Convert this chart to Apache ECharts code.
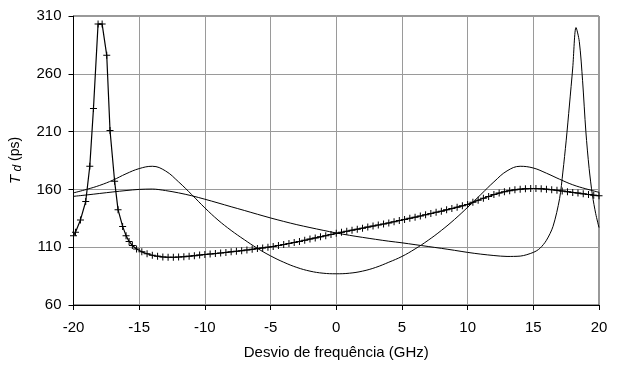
<!DOCTYPE html>
<html>
<head>
<meta charset="utf-8">
<script src="https://cdn.jsdelivr.net/npm/echarts@6/dist/echarts.min.js"></script>
<style>
html,body{margin:0;padding:0;background:#fff;}
#chart{width:623px;height:365px;}
</style>
</head>
<body>
<div id="chart"></div>
<script>
// X tick labels (GHz) and Y tick labels (ps)
var xTicks = [-20, -15, -10, -5, 0, 5, 10, 15, 20];
var yTicks = [60, 110, 160, 210, 260, 310];

// Series A (with + markers)
var aX = [-20, -19.85, -19.47, -19.07, -18.76, -18.48, -18.13, -17.82, -17.47, -17.22, -16.87, -16.61, -16.26, -16.0, -15.77, -15.52, -15.2,
  -14.8, -14.4, -14.0, -13.6, -13.2, -12.8, -12.4, -12.0, -11.6, -11.2, -10.8, -10.4, -10.0,
  -9.6, -9.2, -8.8, -8.4, -8.0, -7.6, -7.2, -6.8, -6.4, -6.0, -5.6, -5.2, -4.8, -4.4, -4.0,
  -3.6, -3.2, -2.8, -2.4, -2.0, -1.6, -1.2, -0.8, -0.4, 0.0, 0.4, 0.8, 1.2, 1.6, 2.0,
  2.4, 2.8, 3.2, 3.6, 4.0, 4.4, 4.8, 5.2, 5.6, 6.0, 6.4, 6.8, 7.2, 7.6, 8.0,
  8.4, 8.8, 9.2, 9.6, 10.0, 10.4, 10.8, 11.2, 11.6, 12.0, 12.4, 12.8, 13.2, 13.6, 14.0,
  14.4, 14.8, 15.2, 15.6, 16.0, 16.4, 16.8, 17.2, 17.6, 18.0, 18.4, 18.8, 19.2, 19.6, 20.0];
var aY = [120, 123, 133.6, 149.5, 180, 230, 303, 303, 276, 211, 167, 142.5, 128, 120, 115, 111.5, 108.5,
  106, 104.3, 103, 102.2, 101.6, 101.3, 101.3, 101.5, 101.8, 102.2, 102.7, 103.2, 103.7,
  104.1, 104.5, 105, 105.5, 106, 106.5, 107, 107.6, 108.2, 108.8, 109.4, 110, 110.7, 111.5, 112.3,
  113.2, 114.1, 115, 116, 117, 118, 119, 120, 121, 122, 122.9, 123.8, 124.7, 125.6, 126.5,
  127.4, 128.3, 129.2, 130.1, 131, 132, 133, 134, 135, 136, 137, 138.1, 139.1, 140.2, 141.2,
  142.3, 143.4, 144.6, 145.8, 147, 148.8, 150.6, 152.3, 153.9, 155.5, 156.8, 158, 158.9, 159.6, 160.2,
  160.6, 160.8, 160.8, 160.6, 160.2, 159.7, 159.2, 158.6, 158, 157.4, 156.8, 156.2, 155.6, 155, 154.5];

// Series B (plain line, peak near +18 GHz)
var bX = [-20, -19, -18, -17, -16, -15, -14, -13, -12, -11, -10, -9, -8, -7, -6, -5, -4, -3, -2, -1, 0,
  1, 2, 3, 4, 5, 6, 7, 8, 9, 10, 11, 12, 13, 14, 15, 15.5, 16, 16.5, 17, 17.25, 17.5, 17.75,
  18, 18.25, 18.5, 18.75, 19, 19.25, 19.5, 19.75, 20];
var bY = [154, 155.2, 156.5, 157.8, 159, 160, 160.3, 159, 157, 154.5, 151.5, 148.3, 145, 141.8, 138.5, 135.3, 132.3, 129.5, 127, 124.6, 122.3,
  120.3, 118.5, 116.8, 115.2, 113.8, 112.2, 110.6, 109, 107.3, 105.5, 104, 102.8, 102, 102.3, 105.5, 109, 116, 128, 152, 175, 202, 233,
  265, 300, 288, 254, 210, 178, 155, 139, 127];

// Series C (symmetric, plain line)
var cX = [-20, -19, -18, -17, -16, -15, -14, -13, -12, -11, -10, -9, -8, -7, -6, -5, -4, -3, -2, -1, 0,
  1, 2, 3, 4, 5, 6, 7, 8, 9, 10, 11, 12, 13, 14, 15, 16, 17, 18, 19, 20];
var cY = [157, 160, 163.5, 168, 173.5, 178, 180, 176, 166.5, 155.5, 144, 133.5, 124.5, 116.5, 109, 102.5, 97, 92.5, 89.3, 87.5, 87,
  87.5, 89.3, 92.5, 97, 102, 108.5, 116, 124.5, 134, 144.5, 155.5, 166.5, 176, 180, 178.5, 174, 168.8, 164, 160.5, 157.5];

function pairs(xs, ys) {
  var out = [];
  for (var i = 0; i < xs.length; i++) out.push([xs[i], ys[i]]);
  return out;
}

var FONT = 'Liberation Sans, Arial, sans-serif';
var plus = 'path://M-0.5,-3.5H0.5V-0.5H3.5V0.5H0.5V3.5H-0.5V0.5H-3.5V-0.5H-0.5Z';

var chart = echarts.init(document.getElementById('chart'), null, {renderer: 'canvas'});
chart.setOption({
  animation: false,
  backgroundColor: '#fff',
  grid: {left: 72, right: 24, top: 16, bottom: 58, show: true, borderColor: '#333', borderWidth: 1, backgroundColor: 'transparent'},
  xAxis: {
    type: 'value', min: xTicks[0], max: xTicks[xTicks.length - 1], interval: 5,
    name: 'Desvio de frequência (GHz)', nameLocation: 'middle', nameGap: 40,
    nameTextStyle: {fontFamily: FONT, fontSize: 15, color: '#000'},
    axisLine: {show: true, onZero: false, lineStyle: {color: '#000', width: 1}},
    axisTick: {show: true, inside: false, length: 5, lineStyle: {color: '#000'}},
    axisLabel: {fontFamily: FONT, fontSize: 15, color: '#000', margin: 15},
    splitLine: {show: true, lineStyle: {color: '#9a9a9a', width: 1}}
  },
  yAxis: {
    type: 'value', min: yTicks[0], max: yTicks[yTicks.length - 1], interval: 50,
    name: '{i|T}{s| d} (ps)', nameLocation: 'middle', nameGap: 50, nameRotate: 90,
    nameTextStyle: {fontFamily: FONT, fontSize: 14, color: '#000',
      rich: {i: {fontFamily: FONT, fontSize: 15, fontStyle: 'italic', color: '#000'},
             s: {fontFamily: FONT, fontSize: 12, fontStyle: 'italic', color: '#000', padding: [4, 0, 0, 0]}}},
    axisLine: {show: true, onZero: false, lineStyle: {color: '#000', width: 1}},
    axisTick: {show: true, inside: false, length: 5, lineStyle: {color: '#000'}},
    axisLabel: {fontFamily: FONT, fontSize: 15, color: '#000', margin: 12},
    splitLine: {show: true, lineStyle: {color: '#9a9a9a', width: 1}}
  },
  series: [
    {type: 'line', data: pairs(cX, cY), smooth: 0.4, showSymbol: false, lineStyle: {color: '#000', width: 1}, z: 3},
    {type: 'line', data: pairs(bX, bY), smooth: 0.3, showSymbol: false, lineStyle: {color: '#000', width: 1}, z: 3},
    {type: 'line', data: pairs(aX, aY), smooth: false, showSymbol: true, symbol: plus, symbolSize: 7,
      itemStyle: {color: '#000'}, lineStyle: {color: '#000', width: 1.2}, z: 4}
  ]
});
</script>
</body>
</html>
